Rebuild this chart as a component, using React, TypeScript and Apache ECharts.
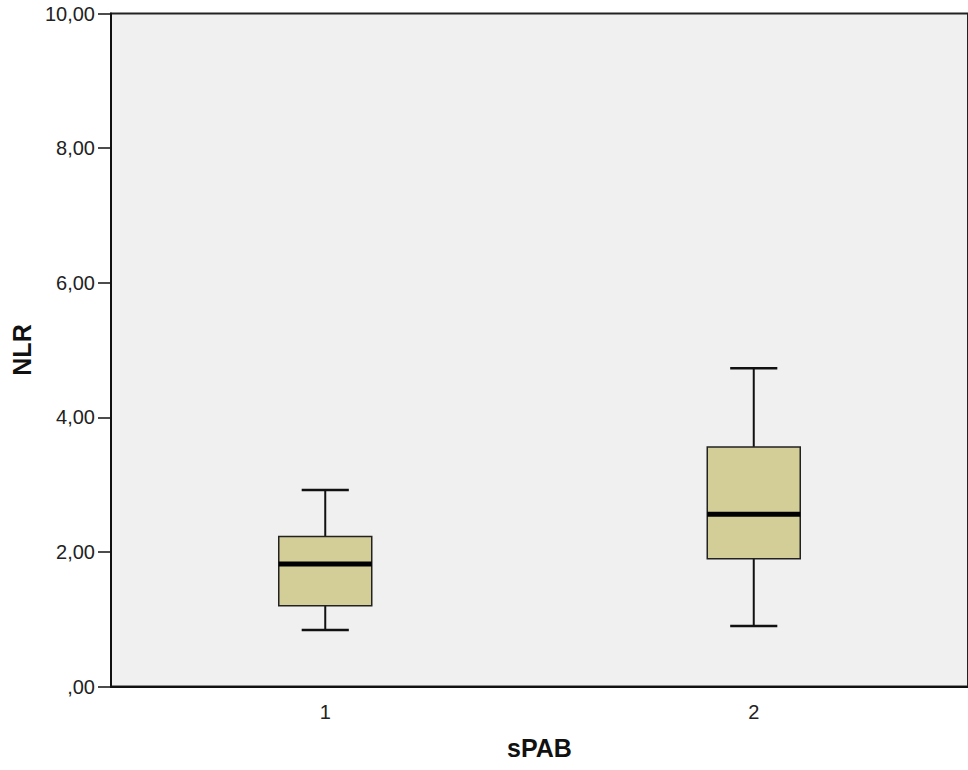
import React, { useEffect, useRef } from "react";
import * as echarts from "echarts";

const categories = ["1", "2"];
const whiskerLow = [0.84, 0.9];
const quartile1 = [1.2, 1.9];
const medians = [1.82, 2.56];
const quartile3 = [2.23, 3.56];
const whiskerHigh = [2.92, 4.73];
const yTicks = [0, 2, 4, 6, 8, 10];

const fmt = (v: number) => (v === 0 ? ",00" : v.toFixed(2).replace(".", ","));

export default function App() {
  const ref = useRef<HTMLDivElement>(null);
  useEffect(() => {
    if (!ref.current) return;
    const chart = echarts.init(ref.current, null, { renderer: "svg" });
    const data = categories.map((_, i) => [
      i,
      whiskerLow[i],
      quartile1[i],
      medians[i],
      quartile3[i],
      whiskerHigh[i],
    ]);
    chart.setOption({
      animation: false,
      backgroundColor: "#ffffff",
      grid: {
        left: 111,
        top: 13.5,
        bottom: 83.5,
        right: -3.5,
        show: true,
        backgroundColor: "#f0f0f0",
        borderColor: "#222",
        borderWidth: 2,
      },
      xAxis: {
        type: "category",
        data: categories,
        boundaryGap: true,
        name: "sPAB",
        nameLocation: "middle",
        nameGap: 49,
        nameTextStyle: {
          fontFamily: "Liberation Sans",
          fontWeight: "bold",
          fontSize: 25,
          color: "#111",
        },
        axisLine: { lineStyle: { color: "#111", width: 2 } },
        axisTick: {
          alignWithLabel: true,
          length: 12,
          lineStyle: { color: "#111", width: 1.5 },
        },
        axisLabel: {
          margin: 15,
          fontFamily: "Liberation Sans",
          fontSize: 20,
          color: "#222",
        },
        splitLine: { show: false },
      },
      yAxis: {
        type: "value",
        min: yTicks[0],
        max: yTicks[yTicks.length - 1],
        interval: yTicks[1] - yTicks[0],
        name: "NLR",
        nameLocation: "middle",
        nameGap: 76,
        nameTextStyle: {
          fontFamily: "Liberation Sans",
          fontWeight: "bold",
          fontSize: 25,
          color: "#111",
        },
        axisLine: { show: true, lineStyle: { color: "#111", width: 2 } },
        axisTick: {
          show: true,
          length: 13,
          lineStyle: { color: "#111", width: 1.5 },
        },
        axisLabel: {
          margin: 16,
          fontFamily: "Liberation Sans",
          fontSize: 20,
          color: "#222",
          formatter: fmt,
        },
        splitLine: { show: false },
      },
      series: [
        {
          type: "custom",
          data,
          encode: { x: 0, y: [1, 2, 3, 4, 5] },
          renderItem: (params: any, api: any) => {
            const idx = api.value(0);
            const band = api.size([1, 0])[0];
            const boxW = band * 0.217;
            const capW = band * 0.11;
            const pLow = api.coord([idx, api.value(1)]);
            const pQ1 = api.coord([idx, api.value(2)]);
            const pMed = api.coord([idx, api.value(3)]);
            const pQ3 = api.coord([idx, api.value(4)]);
            const pHigh = api.coord([idx, api.value(5)]);
            const cx = pMed[0];
            const lineStyle = { stroke: "#111", lineWidth: 2 };
            return {
              type: "group",
              children: [
                {
                  type: "line",
                  shape: { x1: cx, y1: pHigh[1], x2: cx, y2: pQ3[1] },
                  style: lineStyle,
                },
                {
                  type: "line",
                  shape: { x1: cx, y1: pQ1[1], x2: cx, y2: pLow[1] },
                  style: lineStyle,
                },
                {
                  type: "line",
                  shape: { x1: cx - capW / 2, y1: pHigh[1], x2: cx + capW / 2, y2: pHigh[1] },
                  style: { stroke: "#111", lineWidth: 2.5 },
                },
                {
                  type: "line",
                  shape: { x1: cx - capW / 2, y1: pLow[1], x2: cx + capW / 2, y2: pLow[1] },
                  style: { stroke: "#111", lineWidth: 2.5 },
                },
                {
                  type: "rect",
                  shape: { x: cx - boxW / 2, y: pQ3[1], width: boxW, height: pQ1[1] - pQ3[1] },
                  style: { fill: "#d3ce97", stroke: "#222", lineWidth: 1.5 },
                },
                {
                  type: "line",
                  shape: { x1: cx - boxW / 2, y1: pMed[1], x2: cx + boxW / 2, y2: pMed[1] },
                  style: { stroke: "#000", lineWidth: 5 },
                },
              ],
            };
          },
        },
      ],
    });
    return () => chart.dispose();
  }, []);
  return (
    <div
      ref={ref}
      style={{ position: "fixed", left: 0, top: 0, width: 968, height: 770 }}
    />
  );
}
